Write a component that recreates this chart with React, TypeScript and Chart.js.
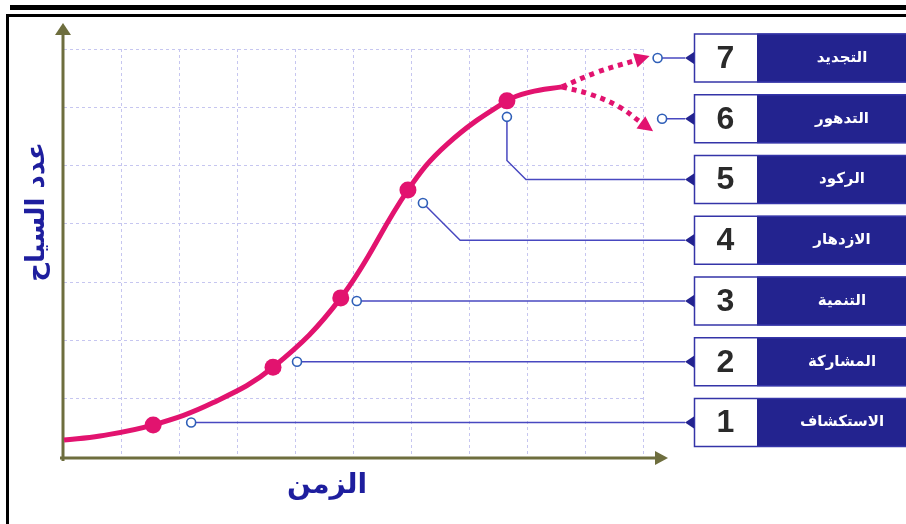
import React, { useEffect, useRef } from "react";
import { Chart, registerables } from "chart.js";
Chart.register(...registerables);

// Main life-cycle curve (time units, tourist-count units)
const curveX = [0, 0.62, 1.54, 2.57, 3.61, 4.78, 5.94, 6.61, 7.65, 8.05, 8.6];
const curveY = [0.29, 0.36, 0.55, 0.93, 1.54, 2.73, 4.58, 5.36, 6.11, 6.26, 6.35];

// Dotted branches after stagnation
const renewX = [8.6, 9.2, 9.85];
const renewY = [6.35, 6.6, 6.8];
const declineX = [8.6, 9.1, 9.6, 9.95];
const declineY = [6.35, 6.22, 6.0, 5.75];

// Stage markers 1..5 on the curve
const stageX = [1.54, 3.61, 4.78, 5.94, 7.65];
const stageY = [0.55, 1.54, 2.73, 4.58, 6.11];

// Stage labels 1..7
const stageNumbers = ["1", "2", "3", "4", "5", "6", "7"];
const stageLabels = ["الاستكشاف", "المشاركة", "التنمية", "الازدهار", "الركود", "التدهور", "التجديد"];

const xTitle = "الزمن";
const yTitle = "عدد السياح";

const MAGENTA = "#e2136f";
const NAVY = "#23238f";
const LEADER = "#4848c0";
const OLIVE = "#6e6e3e";

const pts = (xs: number[], ys: number[]) => xs.map((x, i) => ({ x, y: ys[i] }));

function drawArrowHead(ctx: CanvasRenderingContext2D, tx: number, ty: number, dx: number, dy: number, len: number, half: number, color: string) {
  const l = Math.hypot(dx, dy);
  const ux = dx / l, uy = dy / l;
  const bx = tx - ux * len, by = ty - uy * len;
  ctx.fillStyle = color;
  ctx.beginPath();
  ctx.moveTo(tx, ty);
  ctx.lineTo(bx - uy * half, by + ux * half);
  ctx.lineTo(bx + uy * half, by - ux * half);
  ctx.closePath();
  ctx.fill();
}

const decorPlugin = {
  id: "decor",
  beforeDatasetsDraw(chart: any) {
    const { ctx, chartArea } = chart;
    const { left, right, top, bottom } = chartArea;
    ctx.save();
    // page frame
    ctx.fillStyle = "#000";
    ctx.fillRect(10, 5, 900, 5);
    ctx.strokeStyle = "#000";
    ctx.lineWidth = 3;
    ctx.beginPath();
    ctx.moveTo(7.5, 530);
    ctx.lineTo(7.5, 15.5);
    ctx.lineTo(910, 15.5);
    ctx.stroke();
    // axes
    ctx.strokeStyle = OLIVE;
    ctx.lineWidth = 3;
    ctx.beginPath();
    ctx.moveTo(left - 1, bottom + 4);
    ctx.lineTo(left - 1, top - 14);
    ctx.moveTo(left - 4, bottom + 1);
    ctx.lineTo(right + 12, bottom + 1);
    ctx.stroke();
    drawArrowHead(ctx, left - 1, top - 26, 0, -1, 12, 8, OLIVE);
    drawArrowHead(ctx, right + 25, bottom + 1, 1, 0, 13, 7, OLIVE);
    // axis titles
    ctx.fillStyle = "#1e1e9e";
    ctx.textAlign = "center";
    ctx.textBaseline = "middle";
    ctx.font = "bold 28px 'DejaVu Sans'";
    ctx.fillText(xTitle, 327, 486);
    ctx.save();
    ctx.translate(37, 212);
    ctx.rotate(-Math.PI / 2);
    ctx.font = "bold 26px 'DejaVu Sans'";
    ctx.fillText(yTitle, 0, 0);
    ctx.restore();
    ctx.restore();
  },
  afterDatasetsDraw(chart: any) {
    const { ctx, scales } = chart;
    const xs = scales.x, ys = scales.y;
    ctx.save();
    // branch arrowheads
    const tips: { x: number; y: number }[] = [];
    [[renewX, renewY], [declineX, declineY]].forEach(([bx, by]) => {
      const n = bx.length;
      const x1 = xs.getPixelForValue(bx[n - 2]), y1 = ys.getPixelForValue(by[n - 2]);
      const x2 = xs.getPixelForValue(bx[n - 1]), y2 = ys.getPixelForValue(by[n - 1]);
      const dx = x2 - x1, dy = y2 - y1;
      const l = Math.hypot(dx, dy);
      const tx = x2 + (dx / l) * 16, ty = y2 + (dy / l) * 16;
      drawArrowHead(ctx, tx, ty, dx, dy, 15, 7.5, MAGENTA);
      tips.push({ x: tx, y: ty });
    });

    // label boxes
    const boxLeft = 694, numW = 63, boxH = 49;
    const rowY = (i: number) => 422.5 - i * 60.75;
    for (let i = 0; i < stageLabels.length; i++) {
      const cy = rowY(i);
      const t = cy - boxH / 2;
      ctx.fillStyle = "#fff";
      ctx.fillRect(boxLeft, t, numW, boxH);
      ctx.fillStyle = NAVY;
      ctx.fillRect(boxLeft + numW, t, 920 - boxLeft - numW, boxH);
      ctx.strokeStyle = "#3434a8";
      ctx.lineWidth = 1.5;
      ctx.strokeRect(boxLeft + 0.5, t + 0.5, 920, boxH - 1);
      drawArrowHead(ctx, boxLeft - 9, cy, -1, 0, 9, 6, NAVY);
      ctx.fillStyle = "#2a2a2a";
      ctx.textAlign = "center";
      ctx.textBaseline = "middle";
      ctx.font = "bold 32px 'Liberation Sans'";
      ctx.fillText(stageNumbers[i], boxLeft + numW / 2, cy + 1);
      ctx.fillStyle = "#fff";
      ctx.font = "bold 15px 'DejaVu Sans'";
      ctx.fillText(stageLabels[i], 842, cy);
    }

    // leaders
    const endX = boxLeft - 9;
    const circles: { x: number; y: number }[] = [];
    ctx.strokeStyle = LEADER;
    ctx.lineWidth = 1.5;
    const sp = stageX.map((x, i) => ({ x: xs.getPixelForValue(x), y: ys.getPixelForValue(stageY[i]) }));
    const offs = [38, 24, 16];
    for (let i = 0; i < 3; i++) {
      const c = { x: sp[i].x + offs[i], y: rowY(i) };
      circles.push(c);
      ctx.beginPath();
      ctx.moveTo(c.x, c.y);
      ctx.lineTo(endX, c.y);
      ctx.stroke();
    }
    {
      const c = { x: sp[3].x + 15, y: sp[3].y + 13 };
      circles.push(c);
      const ry = rowY(3);
      ctx.beginPath();
      ctx.moveTo(c.x, c.y);
      ctx.lineTo(c.x + (ry - c.y), ry);
      ctx.lineTo(endX, ry);
      ctx.stroke();
    }
    {
      const c = { x: sp[4].x, y: sp[4].y + 16 };
      circles.push(c);
      const ry = rowY(4);
      ctx.beginPath();
      ctx.moveTo(c.x, c.y);
      ctx.lineTo(c.x, ry - 19);
      ctx.lineTo(c.x + 19, ry);
      ctx.lineTo(endX, ry);
      ctx.stroke();
    }
    {
      const c6 = { x: tips[1].x + 9, y: rowY(5) };
      const c7 = { x: tips[0].x + 8, y: rowY(6) };
      circles.push(c6, c7);
      [c6, c7].forEach((c) => {
        ctx.beginPath();
        ctx.moveTo(c.x, c.y);
        ctx.lineTo(endX, c.y);
        ctx.stroke();
      });
    }
    circles.forEach((c) => {
      ctx.beginPath();
      ctx.arc(c.x, c.y, 4.5, 0, Math.PI * 2);
      ctx.fillStyle = "#fff";
      ctx.fill();
      ctx.strokeStyle = "#2f5fb8";
      ctx.lineWidth = 1.6;
      ctx.stroke();
    });
    ctx.restore();
  },
};

export default function App() {
  const ref = useRef<HTMLCanvasElement>(null);
  useEffect(() => {
    document.body.style.margin = "0";
    const gridColor = (c: any) => (c.tick && c.tick.value === 0 ? "rgba(0,0,0,0)" : "#c6c6f0");
    const chart = new Chart(ref.current!, {
      type: "line",
      data: {
        datasets: [
          {
            data: pts(stageX, stageY),
            showLine: false,
            pointRadius: 8.5,
            pointBackgroundColor: MAGENTA,
            pointBorderColor: MAGENTA,
            pointBorderWidth: 0,
            order: 0,
          } as any,
          {
            data: pts(curveX, curveY),
            borderColor: MAGENTA,
            borderWidth: 5,
            pointRadius: 0,
            tension: 0.4,
            clip: false,
            order: 1,
          },
          {
            data: pts(renewX, renewY),
            borderColor: MAGENTA,
            borderWidth: 5,
            borderDash: [5, 5],
            pointRadius: 0,
            tension: 0.4,
            clip: false,
            order: 2,
          },
          {
            data: pts(declineX, declineY),
            borderColor: MAGENTA,
            borderWidth: 5,
            borderDash: [5, 5],
            pointRadius: 0,
            tension: 0.4,
            clip: false,
            order: 2,
          },
        ],
      },
      options: {
        animation: false,
        responsive: true,
        maintainAspectRatio: false,
        layout: { padding: { left: 64, right: 263, top: 49, bottom: 67 } },
        plugins: { legend: { display: false }, tooltip: { enabled: false } },
        scales: {
          x: {
            type: "linear",
            min: 0,
            max: 10,
            ticks: { display: false, stepSize: 1 },
            grid: { color: gridColor, lineWidth: 1, drawTicks: false },
            border: { display: false, dash: [3, 3] },
          },
          y: {
            type: "linear",
            min: 0,
            max: 7,
            ticks: { display: false, stepSize: 1 },
            grid: { color: gridColor, lineWidth: 1, drawTicks: false },
            border: { display: false, dash: [3, 3] },
          },
        },
      },
      plugins: [decorPlugin],
    });
    return () => chart.destroy();
  }, []);
  return (
    <div style={{ position: "relative", width: 906, height: 524, background: "#fff" }}>
      <canvas ref={ref} />
    </div>
  );
}
